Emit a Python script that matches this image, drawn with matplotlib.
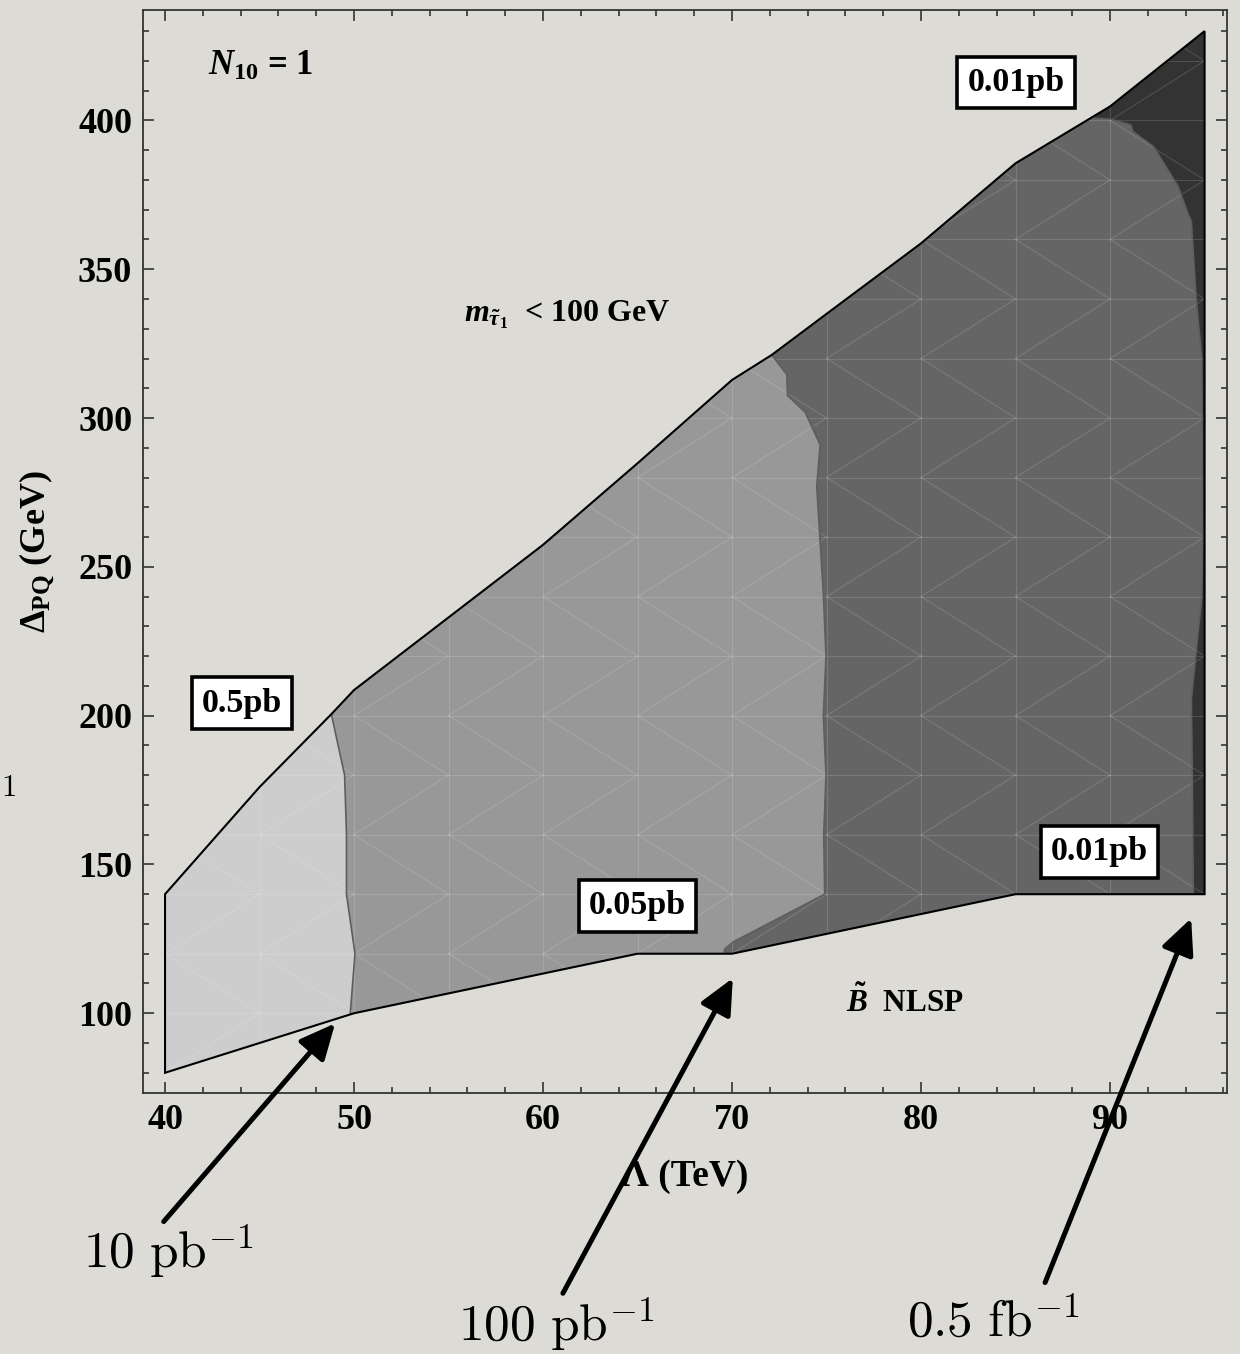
import matplotlib
matplotlib.use("Agg")
import matplotlib.pyplot as plt
from matplotlib.patches import Polygon
from matplotlib.ticker import MultipleLocator
import numpy as np

# ---------------- data ----------------
upper_x = [40, 45, 48.8, 50, 60, 65, 70, 72.1, 75, 80, 85, 90, 95]
upper_y = [140, 176, 200.5, 208.6, 257.4, 284.8, 312.8, 321.2, 335, 358.7, 385.6, 404.7, 430]
lower_x = [40, 50, 65, 70, 85, 95]
lower_y = [80, 100, 120, 120, 140, 140]

# contour boundaries (bottom -> top)
bA_x = [49.8, 50.05, 49.6, 49.6, 49.5, 48.8]
bA_y = [100, 120, 140, 160, 180, 200.5]
bB_x = [69.6, 69.6, 70.07, 74.9, 74.85, 74.97, 74.83, 74.97, 74.83, 74.48, 74.66, 73.86, 72.93, 72.9, 72.1]
bB_y = [120, 121.5, 124, 140, 160, 180, 200, 220, 241, 277, 291, 302, 307.6, 314.6, 321.2]
bC_x = [94.4, 94.35, 94.3, 94.85, 94.9, 94.85, 94.56, 94.3, 94.1, 93.6, 92.3, 91.2, 91.1, 90.0, 89.2]
bC_y = [140, 180, 205.5, 240, 260, 320, 339.7, 366, 369, 377.8, 391.2, 396.3, 398.5, 400.4, 400.7]

region_colors = ['#cdcdcd', '#989898', '#656565', '#333333']

box_labels = ['0.01pb', '0.5pb', '0.05pb', '0.01pb']
box_x = [85.03, 44.07, 65.0, 89.44]
box_y = [412.8, 204.2, 136.1, 154.2]

lumi_labels = [r'$10\ \mathrm{pb}^{-1}$', r'$100\ \mathrm{pb}^{-1}$', r'$0.5\ \mathrm{fb}^{-1}$']
lumi_px = [83, 458, 907]
lumi_py = [1268, 1341, 1337]

arrow_tail_x = [39.93, 61.05, 86.56]
arrow_tail_y = [30.0, 5.9, 9.5]
arrow_tip_x = [49.0, 70.04, 94.29]
arrow_tip_y = [96.6, 111.8, 131.9]

xticks = [40, 50, 60, 70, 80, 90]
yticks = [100, 150, 200, 250, 300, 350, 400]

# ---------------- style ----------------
plt.rcParams['font.family'] = ['Liberation Serif', 'DejaVu Serif']
plt.rcParams['font.weight'] = 'bold'
plt.rcParams['mathtext.fontset'] = 'custom'
plt.rcParams['mathtext.rm'] = 'Liberation Serif:bold'
plt.rcParams['mathtext.bf'] = 'Liberation Serif:bold'
plt.rcParams['mathtext.it'] = 'Liberation Serif:italic:bold'

BG = '#dddbd5'
W, H = 1240, 1354
fig = plt.figure(figsize=(W / 100, H / 100), dpi=100, facecolor=BG)
ax = fig.add_axes([143.3 / W, 1 - 1093 / H, (1226.7 - 143.3) / W, (1093 - 10) / H])
ax.set_facecolor(BG)
ax.set_xlim(38.85, 96.17)
ax.set_ylim(73.2, 437.1)

# ---------------- regions ----------------
outer_pts = list(zip(upper_x, upper_y)) + list(zip(lower_x[::-1], lower_y[::-1]))
outer = Polygon(outer_pts, closed=True, fc=region_colors[0], ec='none', zorder=1)
ax.add_patch(outer)

for bx, by, col in [(bA_x, bA_y, region_colors[1]),
                    (bB_x, bB_y, region_colors[2]),
                    (bC_x, bC_y, region_colors[3])]:
    pts = list(zip(bx, by)) + [(bx[-1], 600), (130, 600), (130, -50), (bx[0], -50)]
    p = Polygon(pts, closed=True, fc=col, ec='none', zorder=2)
    ax.add_patch(p)
    p.set_clip_path(outer)

# faint triangulation mesh
mesh_kw = dict(color='white', alpha=0.14, lw=0.8, zorder=3)
mesh_lines = []
for mx in np.arange(40, 96, 5):
    mesh_lines.append(ax.plot([mx, mx], [60, 450], **mesh_kw)[0])
for my in np.arange(80, 441, 20):
    mesh_lines.append(ax.plot([38, 97], [my, my], **mesh_kw)[0])
for mx in np.arange(40, 95, 5):
    for my in np.arange(80, 441, 40):
        mesh_lines.append(ax.plot([mx, mx + 5], [my, my + 20], **mesh_kw)[0])
        mesh_lines.append(ax.plot([mx, mx + 5], [my, my - 20], **mesh_kw)[0])
for ln in mesh_lines:
    ln.set_clip_path(outer)

# contour boundary lines
for bx, by in [(bA_x, bA_y), (bB_x, bB_y), (bC_x, bC_y)]:
    ln, = ax.plot(bx, by, color='#5e5e5e', lw=1.2, zorder=4)
    ln.set_clip_path(outer)

# outer outline
ax.add_patch(Polygon(outer_pts, closed=True, fc='none', ec='black', lw=1.5, zorder=5))

# ---------------- axes / ticks ----------------
ax.set_xticks(xticks)
ax.set_yticks(yticks)
ax.xaxis.set_minor_locator(MultipleLocator(2))
ax.yaxis.set_minor_locator(MultipleLocator(10))
ax.tick_params(which='both', direction='in', top=True, right=True,
               color='#333333', width=1.2)
ax.tick_params(which='major', length=8, labelsize=26, pad=8)
ax.tick_params(which='minor', length=4.5)
for lab in ax.get_xticklabels() + ax.get_yticklabels():
    lab.set_fontweight('bold')
for sp in ax.spines.values():
    sp.set_color('#333333')
    sp.set_linewidth(1.3)

ax.set_xlabel('Λ (TeV)', fontsize=27, fontweight='bold')
ax.xaxis.set_label_coords(0.5, (1093 - 1177) / 1083)
ax.xaxis.label.set_va('center')
ax.set_ylabel(r'$\Delta_{\mathrm{PQ}}$ (GeV)', fontsize=26, fontweight='bold')
ax.yaxis.set_label_coords((38 - 143.3) / 1083.4, 0.5)
ax.yaxis.label.set_va('center')

# ---------------- annotations ----------------
ax.text(42.28, 415.3, r'$N_{10}$ = 1', fontsize=25, fontweight='bold',
        ha='left', va='baseline', zorder=6)
ax.text(55.8, 332.4, r'$m_{\tilde{\tau}_1}$  < 100 GeV', fontsize=23, fontweight='bold',
        ha='left', va='baseline', zorder=6)
ax.text(76.03, 100.5, r'$\tilde{B}$  NLSP', fontsize=22.5, fontweight='bold',
        ha='left', va='baseline', zorder=6)

for lab, bx, by in zip(box_labels, box_x, box_y):
    ax.text(bx, by, lab, fontsize=24.5, fontweight='bold', ha='center', va='center',
            zorder=7,
            bbox=dict(boxstyle='square,pad=0.3', fc='white', ec='black', lw=2.6))

for tx, ty, hx, hy in zip(arrow_tail_x, arrow_tail_y, arrow_tip_x, arrow_tip_y):
    ax.annotate('', xy=(hx, hy), xytext=(tx, ty), xycoords='data', textcoords='data',
                annotation_clip=False, zorder=10,
                arrowprops=dict(arrowstyle='-|>,head_length=0.6,head_width=0.28',
                                mutation_scale=36, lw=3.6, color='black',
                                shrinkA=0, shrinkB=0))

for lab, px, py in zip(lumi_labels, lumi_px, lumi_py):
    fig.text(px / W, 1 - py / H, lab, fontsize=37, ha='left', va='baseline',
             math_fontfamily='cm', fontweight='normal')

fig.text(1 / W, 1 - 796 / H, r'$\mathrm{1}$', fontsize=22, ha='left', va='baseline',
         fontweight='normal', math_fontfamily='cm')

fig.savefig('out.png', dpi=100, facecolor=BG)
